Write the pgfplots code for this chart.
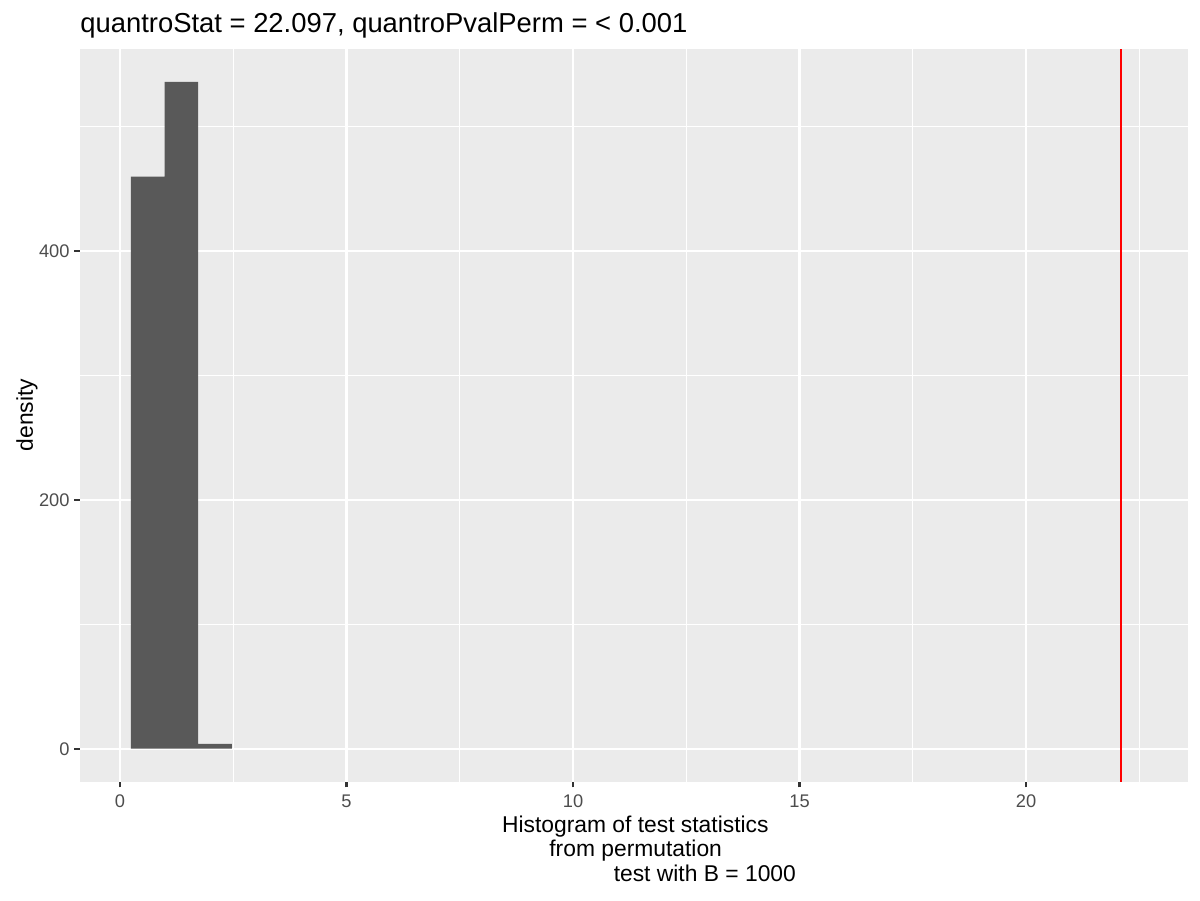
\documentclass[border=0pt]{standalone}
\usepackage{fontspec}
\setmainfont{Liberation Sans}
\usepackage{pgfplots}
\pgfplotsset{compat=1.18}
\definecolor{panelbg}{HTML}{EBEBEB}
\definecolor{barfill}{HTML}{595959}
\definecolor{ticklab}{HTML}{4D4D4D}
\definecolor{tickcol}{HTML}{333333}
\begin{document}
\begin{tikzpicture}
\useasboundingbox (0,0) rectangle (576bp,432bp);
\begin{axis}[
  at={(38.4bp,56.78bp)}, anchor=south west,
  scale only axis, width=531.98bp, height=351.7bp,
  xmin=-0.883, xmax=23.58, ymin=-26.5, ymax=562.5,
  axis background/.style={fill=panelbg},
  axis line style={draw=none},
  xtick={0,5,10,15,20}, ytick={0,200,400},
  minor xtick={2.5,7.5,12.5,17.5,22.5}, minor ytick={100,300,500},
  grid=both,
  major grid style={white, line width=1.07bp},
  minor grid style={white, line width=0.53bp},
  xtick pos=bottom, ytick pos=left,
  tick align=outside,
  major tick length=2.74bp, minor tick length=0pt,
  tick style={tickcol, line width=1.07bp},
  /pgf/number format/assume math mode=true,
  ticklabel style={font=\fontsize{8.8}{10}\selectfont, text=ticklab, inner sep=0pt},
  xticklabel style={anchor=north, yshift=-3.3bp},
  yticklabel style={anchor=east, xshift=-2.1bp},
  clip=true,
]
\addplot[ybar interval, fill=barfill, draw=none] coordinates {(0.240,460) (0.983,536) (1.726,4) (2.469,4)};
\addplot[red, line width=1.07bp] coordinates {(22.097,-26.5) (22.097,562.5)};
\end{axis}
\node[anchor=base west, inner sep=0pt, font=\fontsize{13.2}{15}\selectfont] at (38.4bp,416.5bp) {quantroStat = 22.097, quantroPvalPerm = < 0.001};
\node[anchor=base west, inner sep=0pt, font=\fontsize{11}{13}\selectfont] at (240.8bp,32.5bp) {Histogram of test statistics};
\node[anchor=base west, inner sep=0pt, font=\fontsize{11}{13}\selectfont] at (263.5bp,20.8bp) {from permutation};
\node[anchor=base west, inner sep=0pt, font=\fontsize{11}{13}\selectfont] at (294.4bp,8.8bp) {test with B = 1000};
\node[anchor=base, rotate=90, inner sep=0pt, font=\fontsize{11}{13}\selectfont] at (15.8bp,232.7bp) {density};
\end{tikzpicture}
\end{document}
